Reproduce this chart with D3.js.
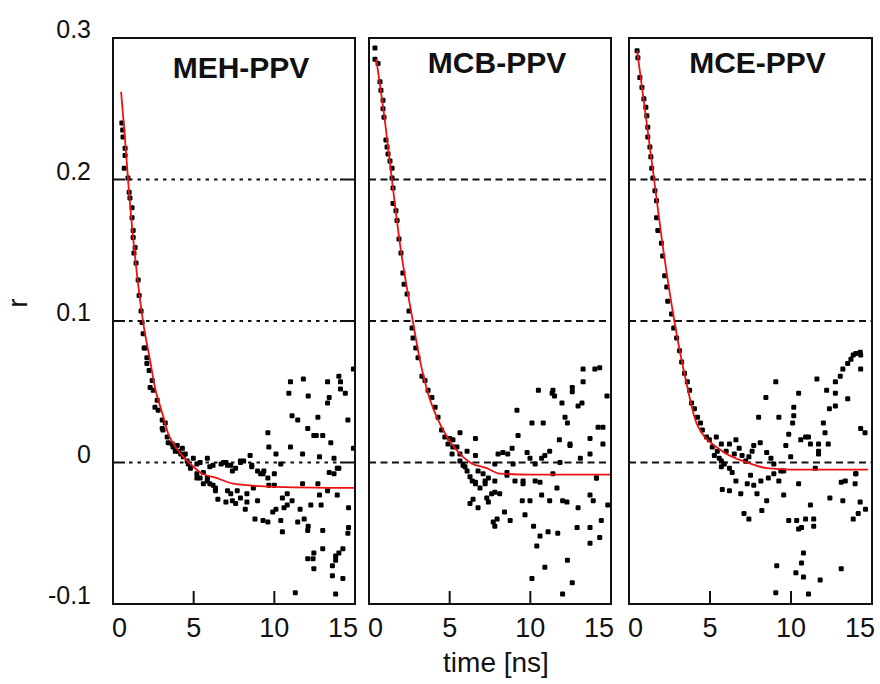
<!DOCTYPE html>
<html lang="en">
	<head>
		<meta charset="UTF-8" />
		<title>Anisotropy decay</title>
		<script src="https://d3js.org/d3.v7.min.js"></script>
		<style>
			body {
				margin: 0;
				padding: 0;
				background: #fff;
			}
			text {
				font-family: "Liberation Sans", Arial, sans-serif;
				fill: #111;
			}
		</style>
	</head>
	<body>
		<svg width="880" height="684"></svg>
		<script>
			// panel names and axis ticks
			const panelNames = ["MEH-PPV", "MCB-PPV", "MCE-PPV"];
			const xTicks = [0, 5, 10, 15];
			const yTicks = [0.3, 0.2, 0.1, 0, -0.1];
			const gridValues = [0.2, 0.1, 0];

			const mehPoints = [
				[0.55,0.240],[0.6,0.235],[0.62,0.230],[0.75,0.222],[0.75,0.217],[0.7,0.208],[0.93,0.201],[1.0,0.191],
				[1.05,0.187],[1.18,0.180],[1.18,0.173],[1.25,0.164],[1.25,0.159],[1.37,0.152],[1.3,0.148],[1.43,0.141],
				[1.56,0.129],[1.62,0.118],[1.74,0.107],[1.8,0.099],[1.87,0.091],[2.0,0.081],[2.1,0.074],[2.24,0.065],
				[2.43,0.058],[2.5,0.051],[2.74,0.044],[2.8,0.037],[3.05,0.030],[3.1,0.023],[3.36,0.018],[3.67,0.013],
				[3.86,0.008],[4.2,0.006],[4.36,0.004],[4.67,-0.001],[4.8,-0.004],[5.2,-0.011],[5.6,-0.015],[6.0,-0.015],
				[6.35,-0.018],[3.42,0.014],[3.73,0.011],[3.98,0.012],[4.05,0.008],[4.3,0.010],[4.48,0.006],[4.6,0.001],
				[4.98,0.003],[5.2,-0.001],[5.6,-0.007],[5.85,-0.011],[3.05,0.024],[3.24,0.028],[2.6,0.039],[2.3,0.053],
				[2.1,0.070],[1.93,0.081],
				[5.4,0.0],[5.85,0.003],[6.2,-0.002],[6.7,-0.001],[7.0,0.0],[7.3,-0.002],[7.6,-0.004],[7.9,0.0],
				[8.1,0.001],[8.5,0.005],[8.6,-0.003],[8.96,-0.006],[9.3,-0.008],[9.6,0.021],[9.66,0.011],[10.1,0.006],
				[10.0,-0.008],[10.4,-0.001],[10.9,0.049],[11.0,0.057],[11.1,0.033],[11.45,0.030],[11.0,0.011],[11.75,0.006],
				[11.8,0.059],[12.1,0.047],[12.07,0.024],[12.45,0.019],[12.6,0.019],[13.0,0.019],[12.7,0.032],[12.8,0.004],
				[13.3,0.057],[13.4,0.046],[13.3,0.042],[13.5,0.014],[13.7,0.003],[14.0,0.061],[14.1,0.057],[14.1,0.052],
				[14.4,0.049],[14.56,0.030],[14.9,0.066],[14.9,0.010],[13.9,-0.004],[13.4,-0.007],
				[6.5,-0.026],[7.0,-0.028],[7.4,-0.027],[7.6,-0.029],[8.2,-0.033],[8.3,-0.028],[8.96,-0.027],[8.8,-0.040],
				[9.3,-0.041],[9.6,-0.042],[9.9,-0.035],[10.1,-0.033],[10.4,-0.041],[10.6,-0.032],[10.5,-0.049],[10.8,-0.030],
				[11.1,-0.027],[11.45,-0.042],[11.6,-0.033],[11.85,-0.040],[12.07,-0.048],[12.26,-0.030],[12.1,-0.045],[12.9,-0.030],
				[13.0,-0.048],[12.07,-0.068],[12.4,-0.068],[12.45,-0.075],[12.45,-0.064],[13.0,-0.061],[13.6,-0.073],[13.8,-0.066],
				[13.8,-0.069],[14.0,-0.064],[14.25,-0.061],[13.6,-0.080],[14.25,-0.082],[11.3,-0.092],[13.8,-0.093],[14.56,-0.050],
				[14.6,-0.046],[14.6,-0.032],[13.9,-0.023],[13.3,-0.020],[12.8,-0.023],[10.0,-0.016],[10.5,-0.025],[9.66,-0.016],
				[14.0,-0.004],[13.7,-0.008],[12.7,-0.015],[11.75,-0.015],[10.8,-0.022],
				[5.2,-0.008],[5.4,-0.011],[5.85,-0.013],[6.2,-0.016],[6.35,-0.020],[7.1,-0.020],[7.3,-0.022],[7.7,-0.020],
				[7.9,-0.025],[8.3,-0.022],[8.7,-0.018],[9.15,-0.008],[6.0,-0.003],[6.85,0.0],[7.1,-0.002],[7.4,-0.006],
				[7.9,0.001],[8.6,-0.002],[9.35,-0.006],[9.6,-0.011]
			];

			const mcbPoints = [
				[0.37,0.293],[0.37,0.285],[0.56,0.282],[0.68,0.269],[0.74,0.263],[0.87,0.256],[0.87,0.250],[0.93,0.244],
				[1.05,0.228],[1.12,0.223],[1.18,0.218],[1.3,0.213],[1.43,0.208],[1.43,0.201],[1.49,0.194],[1.49,0.183],
				[1.67,0.178],[1.74,0.171],[1.86,0.158],[1.98,0.148],[2.1,0.134],[2.17,0.126],[2.36,0.119],[2.48,0.107],
				[2.67,0.095],[2.73,0.088],[2.9,0.081],[3.04,0.074],[3.28,0.061],[3.47,0.058],[3.66,0.051],[3.9,0.046],
				[4.1,0.039],[4.28,0.032],[4.5,0.023],[4.7,0.018],[5.0,0.017],[4.9,0.013],[5.2,0.016],[5.64,0.021],
				[5.45,0.011],[5.15,0.006],[5.64,0.006],[6.08,0.008],[6.6,0.017],[6.6,0.005],[5.83,-0.002],[6.08,-0.006],
				[6.4,-0.013],[6.6,-0.015],[6.76,-0.006],[7.07,-0.008],[7.2,-0.015],[7.4,-0.011],[7.8,-0.001],[7.8,-0.013],
				[8.0,0.006],[8.3,0.007],[8.6,0.006],[8.87,0.010],[8.55,-0.007],[8.93,-0.001],[9.17,0.037],[9.24,0.019],
				[9.55,-0.013],[9.8,0.007],[9.98,0.003],[10.1,0.028],[10.3,-0.001],[10.7,0.003],[10.8,0.028],[10.5,0.051],
				[10.9,0.005],[11.2,0.008],[11.35,0.049],[11.4,0.051],[11.5,0.047],[11.4,-0.008],[11.8,0.016],[11.96,0.042],
				[12.15,0.032],[12.3,0.028],[12.46,0.013],[11.84,0.0],[12.6,0.053],[12.6,0.050],[12.96,0.040],[13.2,0.042],
				[13.1,0.003],[13.27,0.066],[13.27,0.057],[13.7,0.017],[13.7,0.006],[14.0,0.066],[14.3,0.067],[14.2,0.025],
				[14.5,0.025],[14.5,0.013],[14.75,0.047],[14.1,-0.011],
				[5.2,0.011],[5.64,0.001],[5.95,-0.003],[6.26,-0.010],[6.6,-0.014],[6.45,-0.026],[6.26,-0.029],[6.76,-0.032],
				[6.88,-0.018],[7.2,-0.013],[7.3,-0.025],[7.6,-0.022],[7.4,-0.028],[7.8,-0.021],[8.1,-0.022],[7.94,-0.040],
				[7.7,-0.042],[7.8,-0.045],[8.4,-0.035],[8.75,-0.041],[8.55,-0.009],[9.05,-0.013],[9.55,-0.015],[9.5,-0.027],
				[9.67,-0.037],[9.98,-0.027],[10.3,-0.013],[10.6,-0.014],[10.7,-0.023],[10.2,-0.045],[10.4,-0.059],[10.6,-0.052],
				[11.1,-0.049],[11.2,-0.027],[11.65,-0.018],[11.7,-0.050],[12.0,-0.027],[12.27,-0.028],[12.96,-0.032],[12.9,-0.046],
				[13.7,-0.023],[13.9,-0.027],[13.7,-0.046],[13.7,-0.057],[14.3,-0.053],[14.4,-0.041],[14.8,-0.030],[14.1,-0.011],
				[10.1,-0.082],[10.9,-0.074],[12.3,-0.069],[12.6,-0.085],[12.0,-0.093],[12.46,0.012]
			];

			const mcePoints = [
				[0.5,0.291],[0.55,0.286],[0.67,0.272],[0.8,0.265],[0.92,0.257],[1.04,0.251],[1.1,0.245],[1.16,0.237],
				[1.16,0.230],[1.29,0.223],[1.35,0.216],[1.4,0.208],[1.47,0.201],[1.6,0.192],[1.7,0.185],[1.7,0.173],
				[1.78,0.164],[2.0,0.155],[2.08,0.146],[2.2,0.132],[2.33,0.124],[2.39,0.114],[2.63,0.105],[2.76,0.095],
				[2.94,0.088],[3.12,0.079],[3.25,0.071],[3.43,0.063],[3.6,0.057],[3.74,0.051],[3.86,0.042],[4.04,0.038],
				[4.23,0.032],[4.41,0.028],[4.53,0.023],[4.78,0.018],[4.96,0.016],[5.14,0.011],[5.45,0.008],[5.39,0.018],
				[5.27,0.005],[5.7,0.001],[5.7,0.013],[6.0,0.008],[6.2,0.013],[6.5,0.006],[6.6,0.016],[6.8,0.010],
				[6.98,0.005],[7.2,0.001],[7.4,0.004],[7.6,0.008],[7.7,0.012],[8.1,0.014],[8.0,0.032],[8.45,0.046],
				[8.5,0.007],[8.76,0.003],[8.94,-0.001],[9.06,0.057],[9.25,0.032],[9.55,-0.006],[9.68,0.012],[9.86,0.020],
				[9.98,0.004],[10.1,0.028],[10.17,0.039],[10.17,0.033],[10.47,0.049],[10.6,0.016],[10.9,0.018],[11.08,0.018],
				[11.2,0.013],[11.5,-0.004],[11.6,0.059],[11.7,0.008],[11.7,0.013],[12.0,0.028],[12.1,0.021],[12.2,0.051],
				[12.3,0.013],[12.37,0.038],[12.74,0.040],[12.74,0.049],[12.74,0.057],[13.04,0.061],[13.2,0.066],[13.5,0.070],
				[13.5,0.045],[13.7,0.073],[13.84,0.076],[14.0,0.077],[14.27,0.078],[14.3,0.076],[14.3,0.066],[14.3,0.024],
				[14.57,0.021],[14.0,-0.008],
				[5.57,0.003],[5.7,-0.003],[5.88,-0.001],[6.2,-0.004],[6.37,-0.007],[6.6,-0.013],[5.76,-0.019],[6.2,-0.020],
				[6.9,-0.022],[7.1,-0.036],[7.4,-0.040],[7.3,-0.015],[7.5,-0.009],[7.7,-0.016],[7.9,-0.022],[8.2,-0.034],
				[8.14,-0.013],[8.5,-0.027],[8.6,-0.011],[8.94,-0.008],[9.25,-0.013],[9.55,-0.023],[9.37,-0.006],[9.86,-0.041],
				[10.35,-0.041],[10.47,-0.047],[10.65,-0.046],[10.9,-0.040],[11.2,-0.030],[11.4,-0.040],[11.4,-0.045],[10.47,-0.015],
				[12.4,-0.025],[13.1,-0.014],[13.35,-0.013],[13.2,-0.027],[13.84,-0.040],[14.15,-0.036],[14.27,-0.028],[14.6,-0.033],
				[13.96,-0.015],[14.0,-0.008],[10.77,-0.064],[10.65,-0.071],[10.3,-0.078],[10.77,-0.081],[9.12,-0.073],[9.06,-0.092],
				[11.08,-0.093],[11.8,-0.083],[13.1,-0.075],[11.7,0.006]
			];

			// fitted curves [time ns, r]
			const mehFit = [
				[0.5,0.262],[0.7,0.235],[1,0.190],[1.37,0.145],[1.87,0.099],[2.3,0.072],[2.6,0.053],[3.05,0.035],
				[3.4,0.021],[4,0.009],[4.8,-0.001],[5.4,-0.007],[6.45,-0.011],[7.45,-0.015],[9.6,-0.017],[15,-0.018]
			];
			const mcbFit = [
				[0.45,0.285],[1,0.240],[1.43,0.199],[1.95,0.152],[2.73,0.099],[3.16,0.072],[3.6,0.051],[4.2,0.032],
				[4.84,0.018],[5.45,0.0085],[6.26,0.0],[7.3,-0.004],[8.1,-0.0078],[10,-0.0085],[15,-0.0085]
			];
			const mceFit = [
				[0.5,0.291],[1,0.248],[1.55,0.200],[2,0.160],[2.8,0.100],[3.55,0.056],[4.2,0.027],[5.7,0.0085],
				[7.3,0.0],[8.5,-0.004],[10,-0.005],[14.75,-0.005]
			];

			const pointSets = [mehPoints, mcbPoints, mcePoints];
			const fitSets = [mehFit, mcbFit, mceFit];

			// layout
			const panelLeft = [113, 369, 629];
			const panelRight = [355, 611, 872];
			const titleY = [78, 73, 73];
			const plotTop = 38;
			const plotBottom = 604;

			const svg = d3.select("svg");

			const y = d3.scaleLinear().domain([-0.1, 0.3]).range([plotBottom, plotTop]);

			// y tick labels on the left panel only
			svg
				.append("g")
				.selectAll("text")
				.data(yTicks)
				.enter()
				.append("text")
				.attr("x", 91)
				.attr("y", (d) => y(d))
				.attr("text-anchor", "end")
				.style("font-size", "25px")
				.text((d) => String(d));

			// y axis title
			svg
				.append("text")
				.attr("transform", `translate(27,303) rotate(-90)`)
				.attr("text-anchor", "middle")
				.style("font-size", "27px")
				.text("r");

			// x axis title
			svg
				.append("text")
				.attr("x", 496)
				.attr("y", 672)
				.attr("text-anchor", "middle")
				.style("font-size", "28px")
				.text("time [ns]");

			panelNames.forEach((name, i) => {
				const x = d3
					.scaleLinear()
					.domain([0, 15])
					.range([panelLeft[i], panelRight[i]]);
				const g = svg.append("g");

				// horizontal reference lines
				gridValues.forEach((v) => {
					if (i === 0) {
						g.append("line")
							.attr("x1", x(0)).attr("x2", x(0) + 12)
							.attr("y1", y(v)).attr("y2", y(v))
							.attr("stroke", "#111").attr("stroke-width", 2);
						g.append("line")
							.attr("x1", x(15) - 15).attr("x2", x(15))
							.attr("y1", y(v)).attr("y2", y(v))
							.attr("stroke", "#111").attr("stroke-width", 2);
						g.append("line")
							.attr("x1", x(0) + 16).attr("x2", x(15) - 17)
							.attr("y1", y(v)).attr("y2", y(v))
							.attr("stroke", "#111").attr("stroke-width", 2)
							.attr("stroke-dasharray", "3.5,5");
					} else {
						g.append("line")
							.attr("x1", x(0)).attr("x2", x(15))
							.attr("y1", y(v)).attr("y2", y(v))
							.attr("stroke", "#111").attr("stroke-width", 2)
							.attr("stroke-dasharray", "7,4.5");
					}
				});

				// inner x ticks
				g.selectAll(".xt")
					.data(xTicks.slice(1, -1))
					.enter()
					.append("line")
					.attr("x1", (d) => x(d)).attr("x2", (d) => x(d))
					.attr("y1", plotBottom).attr("y2", plotBottom - 13)
					.attr("stroke", "#111").attr("stroke-width", 2);

				// x tick labels
				g.selectAll(".xl")
					.data(xTicks)
					.enter()
					.append("text")
					.attr("x", (d, k) => x(d) + (k === 0 ? -1 : k === xTicks.length - 1 ? 3 : 0))
					.attr("y", 637)
					.attr("text-anchor", (d, k) =>
						k === 0 ? "start" : k === xTicks.length - 1 ? "end" : "middle"
					)
					.style("font-size", "27px")
					.text((d) => d);

				// scatter
				g.append("g")
					.selectAll("rect")
					.data(pointSets[i])
					.enter()
					.append("rect")
					.attr("x", (d) => x(d[0]) - 2.5)
					.attr("y", (d) => y(d[1]) - 2.5)
					.attr("width", 5)
					.attr("height", 5)
					.attr("rx", 1.2)
					.attr("fill", "#000");

				// fit
				g.append("path")
					.datum(fitSets[i])
					.attr("fill", "none")
					.attr("stroke", "#ee1111")
					.attr("stroke-width", 1.8)
					.attr(
						"d",
						d3.line()
							.x((d) => x(d[0]))
							.y((d) => y(d[1]))
							.curve(d3.curveMonotoneX)
					);

				// frame
				g.append("rect")
					.attr("x", x(0))
					.attr("y", plotTop)
					.attr("width", x(15) - x(0))
					.attr("height", plotBottom - plotTop)
					.attr("fill", "none")
					.attr("stroke", "#111")
					.attr("stroke-width", 2);

				// panel title
				g.append("text")
					.attr("x", (x(0) + x(15)) / 2 + 7)
					.attr("y", titleY[i])
					.attr("text-anchor", "middle")
					.style("font-size", "30px")
					.style("font-weight", "bold")
					.text(name);
			});
		</script>
	</body>
</html>
